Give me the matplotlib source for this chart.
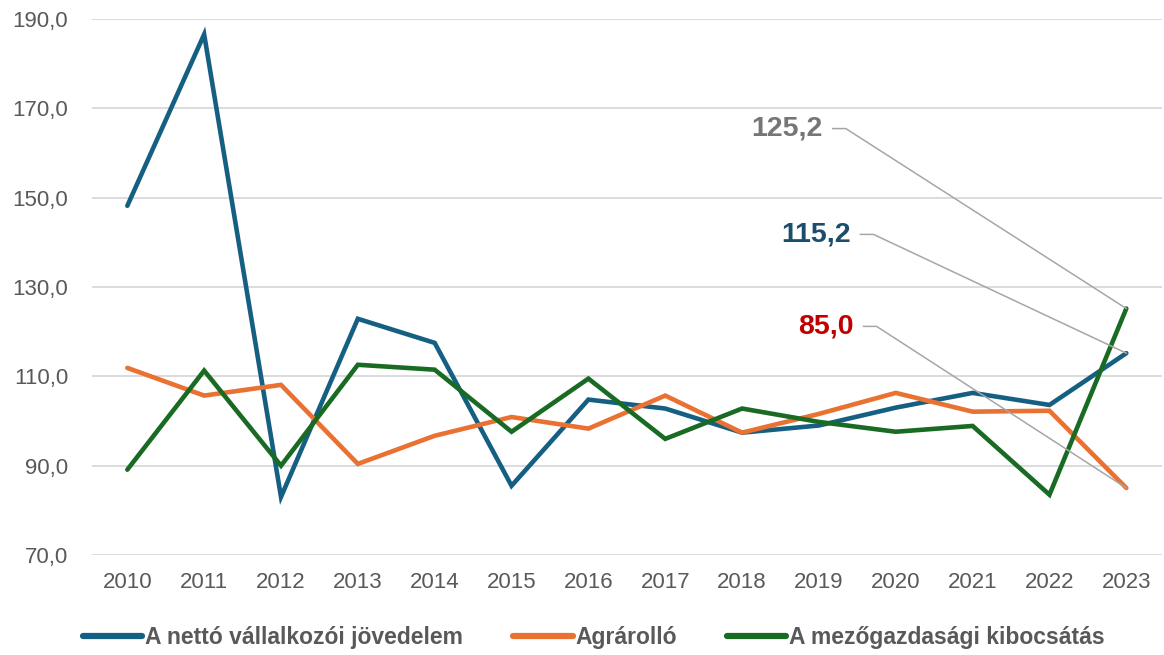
import numpy as np
import matplotlib.pyplot as plt
from matplotlib.ticker import FuncFormatter

# data
years = [2010, 2011, 2012, 2013, 2014, 2015, 2016, 2017, 2018, 2019, 2020, 2021, 2022, 2023]
netto = [148.2, 186.6, 83.0, 122.9, 117.5, 85.5, 104.8, 102.8, 97.4, 99.0, 103.0, 106.3, 103.6, 115.2]
agrarollo = [111.9, 105.7, 108.1, 90.4, 96.7, 100.9, 98.3, 105.7, 97.4, 101.6, 106.3, 102.1, 102.3, 85.0]
kibocsatas = [89.1, 111.3, 90.0, 112.6, 111.5, 97.6, 109.5, 96.0, 102.8, 99.8, 97.6, 98.9, 83.5, 125.2]
labels = ['A nettó vállalkozói jövedelem', 'Agrárolló', 'A mezőgazdasági kibocsátás']
colors = ['#156082', '#E97132', '#196B24']

plt.rcParams['font.family'] = ['Liberation Sans', 'DejaVu Sans']

fig = plt.figure(figsize=(11.64, 6.55), dpi=100)
ax = fig.add_axes([0.079, 0.1527, 0.919, 0.818])

x = np.arange(len(years))
series = [netto, agrarollo, kibocsatas]
for vals, c, lab in zip(series, colors, labels):
    ax.plot(x, vals, color=c, lw=3.3, label=lab, solid_capstyle='round',
            solid_joinstyle='miter', zorder=3)

ax.set_xlim(-0.46, 13.46)
ax.set_ylim(70, 190)
ax.set_yticks(np.arange(70, 191, 20))
ax.set_xticks(x)
ax.set_xticklabels([str(y) for y in years])
ax.yaxis.set_major_formatter(FuncFormatter(lambda v, p: f'{v:.1f}'.replace('.', ',')))
ax.tick_params(axis='both', length=0, labelsize=16, labelcolor='#595959')
ax.tick_params(axis='y', pad=17)
ax.tick_params(axis='x', pad=12)
ax.grid(axis='y', color='#D9D9D9', lw=1.3, zorder=0)
ax.set_axisbelow(True)
for s in ax.spines.values():
    s.set_visible(False)

# last-value callouts with leader lines
callouts = [
    (kibocsatas[-1], 9.05, 165.5, '#767676'),
    (netto[-1], 9.41, 141.8, '#1B4E6B'),
    (agrarollo[-1], 9.45, 121.2, '#C00000'),
]
for val, tx, ty, tc in callouts:
    ax.text(tx, ty, f'{val:.1f}'.replace('.', ','), ha='right', va='center',
            fontsize=20.5, fontweight='bold', color=tc)
    ax.plot([tx + 0.13, tx + 0.3, x[-1]], [ty, ty, val], color='#A6A6A6', lw=1.1, zorder=4)

leg = fig.legend(loc='center', bbox_to_anchor=(0.51, 0.026), ncol=3, frameon=False,
                 handlelength=2.6, handletextpad=0.1, columnspacing=2.2,
                 prop={'weight': 'bold', 'size': 16.5})
for t in leg.get_texts():
    t.set_color('#595959')
for h in leg.get_lines():
    h.set_linewidth(4.5)

fig.savefig('out.png', dpi=100)
